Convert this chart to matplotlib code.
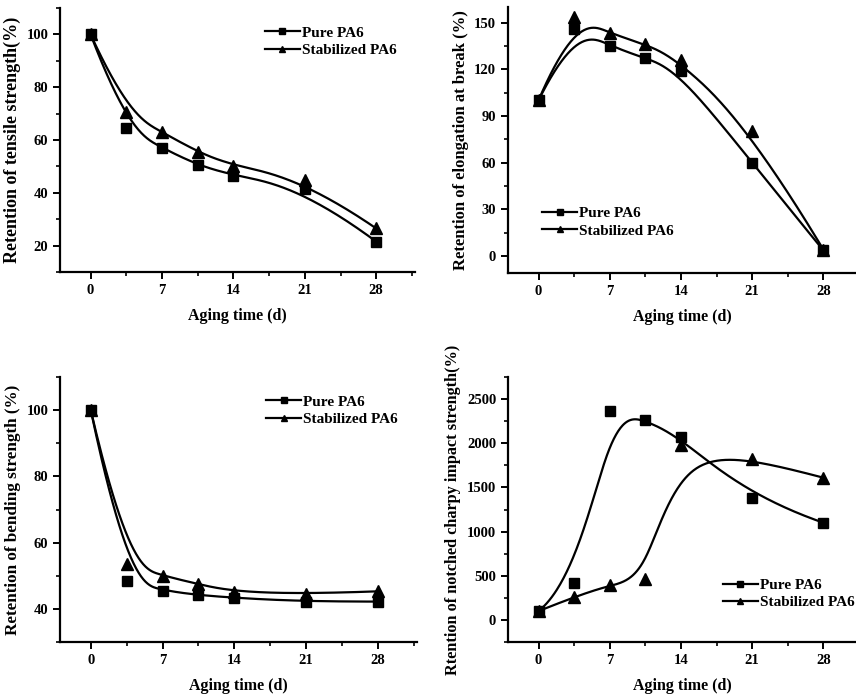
import numpy as np
import matplotlib
matplotlib.use('Agg')
import matplotlib.pyplot as plt
from matplotlib.ticker import MultipleLocator

plt.rcParams['font.family'] = ['Liberation Serif', 'DejaVu Serif']
plt.rcParams['font.weight'] = 'bold'
plt.rcParams['axes.labelweight'] = 'bold'

# aging time (d)
days = [0, 3.5, 7, 10.5, 14, 21, 28]

tensile_pure = [100, 64.5, 57, 50.5, 46.5, 41.5, 21.5]
tensile_stab = [100, 70.5, 63, 55.5, 50, 45, 26.5]

elong_pure = [100, 146, 135, 127, 119, 59.5, 3.5]
elong_stab = [100, 153.5, 143, 136, 126, 80, 4]

bend_pure = [100, 48.5, 45.5, 44.2, 43.3, 42.2, 42.2]
bend_stab = [100, 53.5, 50, 47.5, 45, 44.5, 45.3]

impact_pure = [100, 420, 2360, 2260, 2070, 1380, 1100]
impact_stab = [100, 260, 400, 460, 1980, 1820, 1610]

series_names = ['Pure PA6', 'Stabilized PA6']


def bspline(xs, ys, k=3, n=300):
    # clamped B-spline, data points used as control points (like Origin's "B-Spline" connect)
    P = np.column_stack([xs, ys]).astype(float)
    m = len(P)
    t = np.concatenate([np.zeros(k), np.linspace(0, 1, m - k + 1), np.ones(k)])
    u = np.linspace(0, 1, n)
    N = np.zeros((n, len(t) - 1))
    for i in range(len(t) - 1):
        N[:, i] = ((u >= t[i]) & (u < t[i + 1])).astype(float)
    N[u >= 1, m - 1] = 1.0
    for d in range(1, k + 1):
        Nn = np.zeros((n, len(t) - 1 - d))
        for i in range(len(t) - 1 - d):
            if t[i + d] - t[i] > 0:
                Nn[:, i] += (u - t[i]) / (t[i + d] - t[i]) * N[:, i]
            if t[i + d + 1] - t[i + 1] > 0:
                Nn[:, i] += (t[i + d + 1] - u) / (t[i + d + 1] - t[i + 1]) * N[:, i + 1]
        N = Nn
    C = N @ P
    return C[:, 0], C[:, 1]


fig = plt.figure(figsize=(8.56, 6.97), dpi=100)

W, H = 856.0, 697.0
def box(l, t, r, b):
    return [l / W, 1 - b / H, (r - l) / W, (b - t) / H]

ax1 = fig.add_axes(box(60, 8, 415, 272))
ax2 = fig.add_axes(box(508, 7, 856, 273))
ax3 = fig.add_axes(box(60, 377, 417, 642))
ax4 = fig.add_axes(box(508, 377, 856, 642))

panels = [
    (ax1, tensile_pure, tensile_stab, 'Retention of tensile strength(%)', 13, (10, 110), 20, ('upper left', (0.56, 0.955))),
    (ax2, elong_pure, elong_stab, 'Retention of elongation at break (%)', 12, (-11, 160), 30, ('lower left', (0.08, 0.11))),
    (ax3, bend_pure, bend_stab, 'Retention of bending strength (%)', 12.3, (30, 110), 20, ('upper left', (0.56, 0.955))),
    (ax4, impact_pure, impact_stab, 'Rtention of notched charpy impact strength(%)', 11.7, (-250, 2750), 500, ('lower left', (0.6, 0.1))),
]

for ax, pure, stab, ylab, ysize, ylim, step, leg in panels:
    xs, ys = bspline(days, pure)
    ax.plot(xs, ys, color='black', lw=1.6)
    xs, ys = bspline(days, stab)
    ax.plot(xs, ys, color='black', lw=1.6)
    ax.plot(days, pure, ls='none', marker='s', ms=7, color='black')
    ax.plot(days, stab, ls='none', marker='^', ms=8, color='black')

    # legend handles: line with a small marker
    h1, = ax.plot([], [], color='black', lw=1.6, marker='s', ms=4.5)
    h2, = ax.plot([], [], color='black', lw=1.6, marker='^', ms=5)
    ax.legend([h1, h2], series_names, loc=leg[0], bbox_to_anchor=leg[1], frameon=False,
              handlelength=2.3, handletextpad=0.1, labelspacing=0.25, borderaxespad=0,
              prop={'size': 11, 'weight': 'bold'})

    ax.set_xlim(-3, 31.8 if ax in (ax1, ax3) else 31.2)
    ax.set_ylim(*ylim)
    ax.set_xticks([0, 7, 14, 21, 28])
    ax.xaxis.set_minor_locator(MultipleLocator(3.5))
    ax.yaxis.set_major_locator(MultipleLocator(step))
    ax.yaxis.set_minor_locator(MultipleLocator(step / 2))

    ax.spines['top'].set_visible(False)
    ax.spines['right'].set_visible(False)
    ax.spines['left'].set_linewidth(1.6)
    ax.spines['bottom'].set_linewidth(1.6)
    ax.tick_params(which='major', direction='out', length=5, width=1.4, labelsize=10.5)
    ax.tick_params(which='minor', direction='out', length=3, width=1.2)
    for lbl in ax.get_xticklabels() + ax.get_yticklabels():
        lbl.set_fontweight('bold')

    ax.set_xlabel('Aging time (d)', fontsize=11.5, fontweight='bold', labelpad=8)
    ax.set_ylabel(ylab, fontsize=ysize, fontweight='bold', labelpad=4)

plt.savefig('out.png', dpi=100)
